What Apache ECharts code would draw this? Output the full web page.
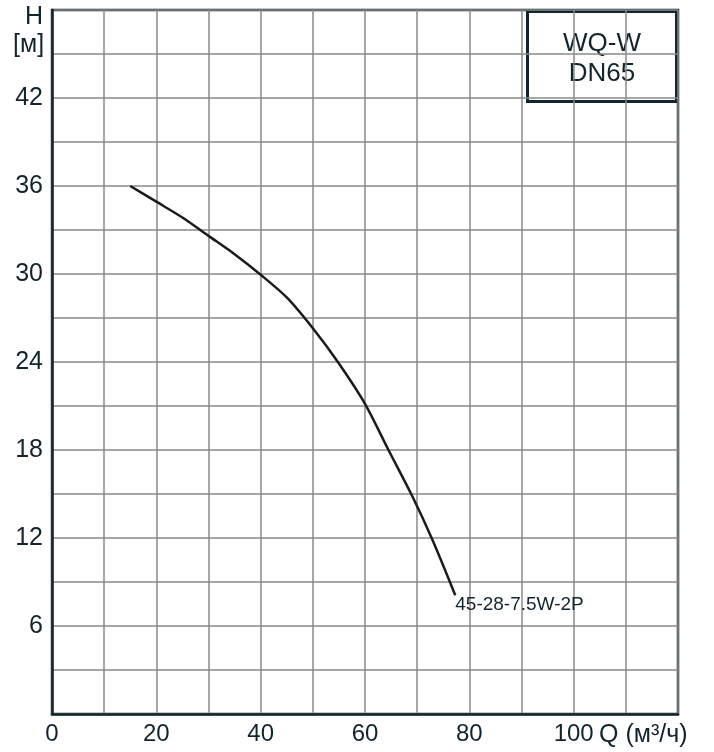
<!DOCTYPE html>
<html>
<head>
<meta charset="utf-8">
<script src="https://cdn.jsdelivr.net/npm/echarts@6/dist/echarts.min.js"></script>
<style>
  html, body { margin: 0; padding: 0; background: #fff; }
  #chart { width: 714px; height: 752px; }
</style>
</head>
<body>
<div id="chart"></div>
<script>
// Pump performance curve: head H [м] against flow Q [м³/ч]
const flowQ = [15, 20, 25, 30, 35, 40, 45, 50, 54.8, 60, 64.5, 69, 72.9, 77.3];
const headH = [36, 34.93, 33.85, 32.6, 31.35, 29.95, 28.4, 26.3, 24.0, 21.15, 18.0, 14.9, 11.9, 8.1];
const curveName = '45-28-7.5W-2P';
const xTickLabels = [0, 20, 40, 60, 80, 100];
const yTickLabels = [6, 12, 18, 24, 30, 36, 42];
const modelLines = ['WQ-W', 'DN65'];

const FONT = "'Liberation Sans', Arial, sans-serif";
const INK = '#13242d';

const points = flowQ.map((q, i) => [q, headH[i]]);

const chart = echarts.init(document.getElementById('chart'));
chart.setOption({
  backgroundColor: '#ffffff',
  animation: false,
  grid: {
    left: 52, right: 36, top: 10, bottom: 38,
    show: true, borderColor: INK, borderWidth: 2.5, backgroundColor: 'transparent'
  },
  xAxis: {
    type: 'value', min: 0, max: 120, interval: 10,
    axisLine: { show: true, lineStyle: { color: INK, width: 2.5 } },
    axisTick: { show: false },
    splitLine: { show: true, lineStyle: { color: '#8a8a8a', width: 1.5 } },
    axisLabel: {
      color: INK, fontFamily: FONT, fontSize: 24, margin: 8,
      formatter: v => xTickLabels.includes(v) ? String(v) : ''
    }
  },
  yAxis: {
    type: 'value', min: 0, max: 48, interval: 3,
    axisLine: { show: true, lineStyle: { color: INK, width: 2.5 } },
    axisTick: { show: false },
    splitLine: { show: true, lineStyle: { color: '#8a8a8a', width: 1.5 } },
    axisLabel: {
      color: INK, fontFamily: FONT, fontSize: 25, margin: 9,
      formatter: v => yTickLabels.includes(v) ? String(v) : ''
    }
  },
  series: [{
    type: 'line',
    name: curveName,
    data: points,
    smooth: 0.3,
    showSymbol: false,
    symbol: 'none',
    lineStyle: { color: '#1b1b1b', width: 2.5 },
    endLabel: {
      show: true,
      formatter: curveName,
      align: 'left',
      verticalAlign: 'top',
      distance: 0,
      offset: [0, 0],
      color: INK,
      fontFamily: FONT,
      fontSize: 19
    },
    z: 5
  }],
  graphic: [
    { type: 'text', left: 25, top: 5, style: { text: 'H', fill: INK, font: `25px ${FONT}` } },
    { type: 'text', left: 13, top: 33, style: { text: '[м]', fill: INK, font: `25px ${FONT}` } },
    { type: 'text', left: 599, top: 723, style: { text: 'Q (м³/ч)', fill: INK, font: `25px ${FONT}` } },
    {
      type: 'group', right: 36, top: 10,
      children: [
        { type: 'rect', shape: { x: 0, y: 0, width: 149, height: 90 },
          style: { fill: '#ffffff', stroke: INK, lineWidth: 3 } },
        { type: 'text', x: 74.5, y: 32, style: { text: modelLines[0], fill: INK, font: `26px ${FONT}`, textAlign: 'center', textVerticalAlign: 'middle' } },
        { type: 'text', x: 74.5, y: 62, style: { text: modelLines[1], fill: INK, font: `26px ${FONT}`, textAlign: 'center', textVerticalAlign: 'middle' } }
      ],
      z: 10
    }
  ]
});
</script>
</body>
</html>
